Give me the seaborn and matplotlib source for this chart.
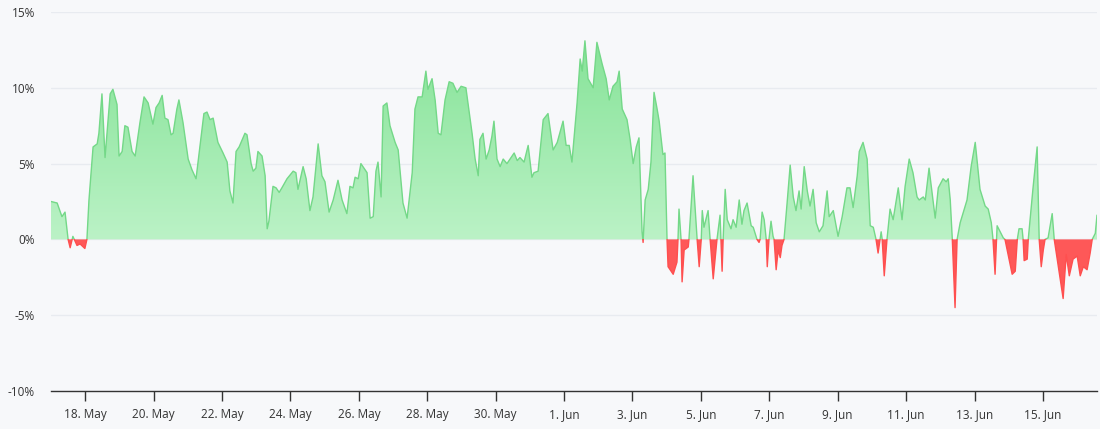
import numpy as np
import pandas as pd
import matplotlib
matplotlib.use("Agg")
import matplotlib.pyplot as plt
import matplotlib.transforms as mtransforms
import matplotlib.dates as mdates
from matplotlib.colors import LinearSegmentedColormap
from matplotlib.patches import Rectangle
from matplotlib.path import Path
import seaborn as sns

# data: days since 17 May 00:00 and the % change
start = pd.Timestamp("2024-05-17 00:00")
day_offset = [
    0.00, 0.18, 0.32, 0.41, 0.50, 0.56, 0.64, 0.76, 0.85, 0.99,
    1.05, 1.11, 1.23, 1.35, 1.40, 1.49, 1.58, 1.73, 1.81, 1.93,
    1.99, 2.08, 2.16, 2.25, 2.37, 2.46, 2.60, 2.72, 2.84, 2.98,
    3.07, 3.16, 3.25, 3.33, 3.42, 3.51, 3.57, 3.68, 3.74, 3.86,
    4.01, 4.12, 4.24, 4.33, 4.47, 4.56, 4.65, 4.74, 4.88, 5.03,
    5.15, 5.23, 5.32, 5.41, 5.50, 5.67, 5.73, 5.85, 5.91, 5.99,
    6.05, 6.17, 6.26, 6.32, 6.37, 6.49, 6.58, 6.67, 6.75, 6.90,
    7.08, 7.16, 7.22, 7.37, 7.46, 7.57, 7.66, 7.81, 7.92, 8.01,
    8.13, 8.25, 8.39, 8.51, 8.65, 8.74, 8.83, 8.89, 8.98, 9.06,
    9.24, 9.33, 9.42, 9.50, 9.56, 9.65, 9.71, 9.82, 9.91, 10.06,
    10.15, 10.29, 10.41, 10.56, 10.64, 10.73, 10.85, 10.96, 11.02, 11.14,
    11.23, 11.32, 11.40, 11.52, 11.64, 11.75, 11.87, 11.99, 12.13, 12.19,
    12.31, 12.40, 12.49, 12.54, 12.63, 12.72, 12.81, 12.89, 12.95, 13.04,
    13.13, 13.22, 13.33, 13.48, 13.54, 13.63, 13.71, 13.83, 13.95, 14.06,
    14.12, 14.24, 14.39, 14.53, 14.68, 14.80, 14.97, 15.06, 15.15, 15.23,
    15.38, 15.47, 15.53, 15.61, 15.70, 15.85, 15.96, 16.11, 16.23, 16.32,
    16.43, 16.55, 16.61, 16.70, 16.84, 16.93, 17.02, 17.11, 17.19, 17.28,
    17.31, 17.37, 17.46, 17.54, 17.63, 17.72, 17.78, 17.89, 17.95, 18.01,
    18.04, 18.19, 18.30, 18.33, 18.36, 18.42, 18.45, 18.51, 18.63, 18.65,
    18.77, 18.89, 18.95, 19.01, 19.04, 19.09, 19.21, 19.27, 19.36, 19.47,
    19.56, 19.62, 19.65, 19.71, 19.77, 19.88, 19.94, 20.03, 20.12, 20.20,
    20.26, 20.35, 20.47, 20.53, 20.64, 20.70, 20.73, 20.79, 20.85, 20.91,
    20.94, 20.99, 21.05, 21.11, 21.14, 21.20, 21.26, 21.32, 21.37, 21.43,
    21.52, 21.61, 21.70, 21.78, 21.87, 21.93, 22.02, 22.11, 22.19, 22.28,
    22.37, 22.46, 22.57, 22.69, 22.75, 22.87, 23.01, 23.13, 23.27, 23.36,
    23.45, 23.57, 23.63, 23.74, 23.86, 23.95, 24.04, 24.12, 24.18, 24.27,
    24.30, 24.36, 24.44, 24.53, 24.62, 24.77, 24.88, 24.97, 25.09, 25.20,
    25.32, 25.38, 25.50, 25.56, 25.67, 25.85, 25.94, 26.08, 26.17, 26.23,
    26.29, 26.35, 26.43, 26.49, 26.58, 26.78, 26.90, 27.02, 27.16, 27.31,
    27.40, 27.49, 27.54, 27.60, 27.66, 27.75, 27.84, 27.89, 28.10, 28.19,
    28.25, 28.30, 28.39, 28.42, 28.45, 28.54, 28.57, 28.71, 28.83, 28.89,
    28.95, 29.01, 29.06, 29.15, 29.27, 29.33, 29.59, 29.68, 29.77, 29.88,
    30.00, 30.09, 30.18, 30.29, 30.38, 30.44, 30.53, 30.58,
]
change_pct = [
    2.5, 2.4, 1.5, 1.8, 0.0, -0.55, 0.2, -0.4, -0.3, -0.6,
    0.0, 2.6, 6.1, 6.3, 7.0, 9.6, 5.4, 9.6, 9.9, 8.9,
    5.5, 5.8, 7.5, 7.4, 5.8, 5.5, 7.7, 9.4, 9.0, 7.6,
    8.7, 9.0, 9.5, 8.0, 7.9, 6.9, 7.0, 8.6, 9.2, 7.7,
    5.3, 4.6, 4.0, 5.7, 8.3, 8.4, 7.9, 8.0, 6.4, 5.7,
    5.1, 3.2, 2.4, 5.8, 6.1, 7.0, 6.9, 5.0, 4.5, 4.7,
    5.8, 5.5, 4.2, 0.7, 1.2, 3.5, 3.4, 3.1, 3.4, 4.0,
    4.5, 4.4, 3.3, 4.8, 4.0, 1.9, 2.8, 6.3, 4.2, 3.8,
    1.8, 2.6, 3.9, 2.6, 1.7, 3.5, 3.4, 4.1, 4.0, 5.0,
    4.4, 1.4, 1.5, 4.5, 5.1, 2.8, 8.8, 9.0, 7.5, 6.4,
    5.9, 2.4, 1.4, 4.4, 8.6, 9.4, 9.4, 11.1, 9.9, 10.6,
    9.2, 7.0, 6.9, 9.2, 10.4, 10.3, 9.7, 10.1, 10.0, 9.0,
    7.0, 5.3, 4.2, 6.6, 7.0, 5.3, 5.9, 6.8, 7.8, 5.3,
    4.8, 5.3, 5.0, 5.5, 5.7, 5.2, 5.4, 5.1, 6.2, 4.1,
    4.4, 4.5, 7.9, 8.3, 5.9, 6.4, 7.8, 6.2, 6.2, 5.1,
    9.0, 11.9, 11.1, 13.1, 10.6, 10.0, 13.0, 11.6, 10.6, 9.2,
    10.1, 10.4, 11.1, 8.6, 7.9, 6.6, 5.0, 6.1, 6.7, 0.5,
    -0.2, 2.6, 3.3, 5.1, 9.7, 8.6, 7.8, 5.6, 5.7, 0.0,
    -1.8, -2.3, -1.5, 0.0, 2.0, 0.0, -2.8, -0.7, -0.5, 0.0,
    4.2, 0.0, -1.8, 0.0, 1.9, 0.8, 1.9, 0.0, -2.6, 0.0,
    1.6, -2.1, 0.0, 3.3, 1.3, 0.7, 1.3, 0.8, 2.6, 1.0,
    1.9, 2.4, 0.9, 0.8, 0.0, -0.2, 0.0, 1.8, 1.3, 0.0,
    -1.8, 0.0, 1.2, 0.2, 0.0, -2.0, -0.7, -1.2, -0.4, 0.0,
    2.4, 4.9, 2.8, 1.9, 3.2, 2.0, 4.8, 3.2, 2.2, 3.3,
    1.1, 0.5, 0.9, 3.2, 1.5, 1.9, 0.2, 1.5, 3.4, 3.4,
    2.1, 4.2, 5.8, 6.4, 5.3, 0.9, 0.8, 0.0, -0.9, 0.5,
    0.0, -2.4, 0.0, 2.0, 1.3, 3.4, 1.3, 3.5, 5.3, 4.4,
    2.8, 2.6, 2.8, 2.6, 4.7, 1.4, 3.4, 4.0, 3.8, 4.0,
    2.6, 0.0, -4.5, 0.0, 1.1, 2.6, 4.8, 6.4, 3.3, 2.2,
    2.0, 1.1, 0.0, -2.3, 0.9, 0.5, 0.1, 0.0, -2.3, -2.1,
    0.0, 0.7, 0.7, 0.0, -1.4, -1.3, 0.0, 3.4, 6.1, 0.0,
    -1.8, -0.7, 0.0, 0.1, 1.7, 0.0, -3.9, -1.0, -2.4, -1.3,
    -1.1, -2.4, -1.8, -2.0, -0.9, 0.0, 0.4, 1.6,
]
tick_dates = pd.date_range("2024-05-18", "2024-06-15", freq="2D")
y_ticks = [-10, -5, 0, 5, 10, 15]

assert len(day_offset) == len(change_pct)

df = pd.DataFrame({
    "time": start + pd.to_timedelta(day_offset, unit="D"),
    "pct": change_pct,
})

bg = "#f7f8fa"
green_top = "#86e398"
green_bottom = "#bbf2c6"
green_line = "#74d888"
red = "#ff4f4f"
text_color = "#333333"

sns.set_theme(style="white")
plt.rcParams["font.family"] = ["Open Sans", "DejaVu Sans"]

fig = plt.figure(figsize=(11, 4.29), dpi=100, facecolor=bg)
ax = fig.add_axes([51 / 1100, 1 - 391 / 429, 1046 / 1100, 379 / 429])
ax.set_facecolor(bg)

# positive area with a vertical gradient
pos = ax.fill_between(df["time"], df["pct"], 0, where=df["pct"] >= 0,
                      interpolate=True, color=green_bottom, lw=0, zorder=2)
neg = ax.fill_between(df["time"], df["pct"], 0, where=df["pct"] <= 0,
                      interpolate=True, color=red, lw=0, zorder=2, alpha=0.95)

xnum = mdates.date2num(df["time"])
grad = np.linspace(0, 1, 256).reshape(-1, 1)
cmap = LinearSegmentedColormap.from_list("greens", [green_bottom, green_top])
im = ax.imshow(grad, cmap=cmap, aspect="auto", origin="lower",
               extent=[xnum[0], xnum[-1], 0, max(change_pct)], zorder=2.5)
im.set_clip_path(Path.make_compound_path(*pos.get_paths()), transform=ax.transData)

# outline: green above zero, red below
sns.lineplot(data=df, x="time", y="pct", ax=ax, color=green_line, lw=1, zorder=3)
sns.lineplot(data=df, x="time", y="pct", ax=ax, color=red, lw=1, zorder=3)
trans = mtransforms.blended_transform_factory(ax.transAxes, ax.transData)
ax.lines[0].set_clip_path(Rectangle((0, 0), 1, 100, transform=trans))
ax.lines[1].set_clip_path(Rectangle((0, -100), 1, 100, transform=trans))

ax.set_xlim(df["time"].iloc[0], df["time"].iloc[-1])
ax.set_ylim(-10, 15)
ax.set_yticks(y_ticks)
ax.set_yticklabels([f"{v}%" for v in y_ticks])
ax.set_xticks(tick_dates)
ax.set_xticklabels([f"{d.day}. {d:%b}" for d in tick_dates])
ax.set_xlabel("")
ax.set_ylabel("")

ax.grid(axis="y", color="#e8ebf0", lw=1)
ax.grid(axis="x", visible=False)
ax.set_axisbelow(True)
for side in ["top", "right", "left"]:
    ax.spines[side].set_visible(False)
ax.spines["bottom"].set_color(text_color)
ax.spines["bottom"].set_linewidth(1)

ax.tick_params(axis="x", direction="out", length=7, width=1, color=text_color,
               labelsize=8.5, labelcolor=text_color, pad=5, bottom=True)
ax.tick_params(axis="y", length=0, labelsize=8.5, labelcolor=text_color, pad=11.5)

fig.savefig("out.png", dpi=100, facecolor=bg)
